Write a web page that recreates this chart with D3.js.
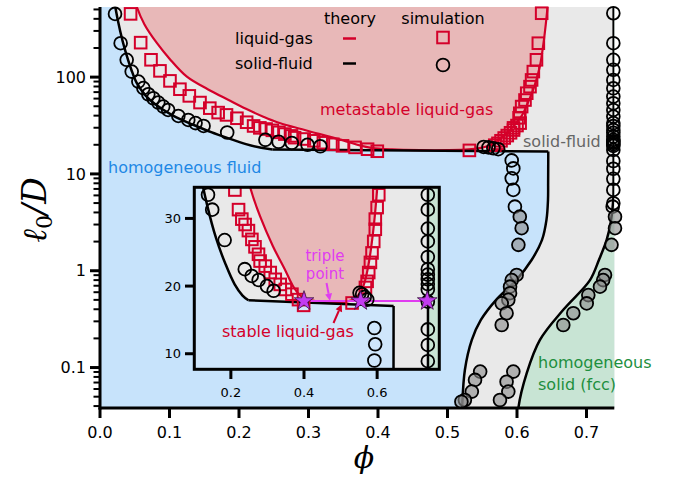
<!DOCTYPE html>
<meta charset="utf-8">
<style>
  body { margin: 0; background: #fff; }
  text { font-family: "DejaVu Sans", sans-serif; }
  .math { font-family: "DejaVu Serif", serif; font-style: italic; }
</style>
<body></body>
<script src="https://d3js.org/d3.v7.min.js"></script>
<script>

// ---- data: (phi, l0/D) pairs ----

// theory: liquid-gas binodal (red)
var binodal = [[0.050, 640], [0.053, 530], [0.064, 350], [0.082, 224], [0.10, 155], [0.125, 101],
  [0.155, 75], [0.185, 58], [0.21, 47], [0.235, 39], [0.255, 34.2], [0.28, 30.3], [0.315, 25.9],
  [0.35, 22.2], [0.37, 20.0], [0.39, 18.6], [0.42, 17.9], [0.46, 17.6], [0.50, 17.6], [0.53, 17.9],
  [0.548, 18.6], [0.558, 19.4], [0.568, 21], [0.579, 24], [0.589, 28], [0.598, 33], [0.607, 40],
  [0.616, 55], [0.625, 80], [0.633, 130], [0.639, 250], [0.644, 530], [0.6455, 700]];

// theory: fluid side of solid-fluid coexistence (black)
var fluidUpper = [[0.0195, 700], [0.022, 530], [0.029, 300], [0.036, 191], [0.045, 120], [0.053, 86.5],
  [0.066, 64], [0.08, 52], [0.105, 40], [0.135, 32], [0.16, 27], [0.185, 23.3], [0.21, 20.3],
  [0.232, 18.6], [0.248, 17.9]];
var fluidFlat = [[0.248, 17.9], [0.645, 17.05]];
var fluidDrop = [[0.645, 17.05], [0.6448, 8], [0.6446, 5.39], [0.6424, 3.35], [0.636, 2.08], [0.621, 1.29],
  [0.599, 0.80], [0.570, 0.50], [0.548, 0.31], [0.535, 0.193], [0.525, 0.0944], [0.521, 0.0383], [0.5205, 0.03]];

// theory: solid side (black)
var solidLine = [[0.739, 1000], [0.739, 8], [0.7385, 5.39], [0.735, 3.2], [0.729, 2.08], [0.718, 1.3],
  [0.705, 0.80], [0.6666, 0.395], [0.633, 0.193], [0.614, 0.0875], [0.602, 0.0383], [0.6015, 0.03]];

// simulation: liquid-gas (squares)
var simSquares = [[0.044, 450], [0.0585, 227], [0.0734, 151], [0.0863, 116], [0.1007, 91.4], [0.115, 75],
  [0.1285, 64], [0.1439, 54.6], [0.158, 47.8], [0.170, 43], [0.182, 40.7], [0.197, 37.6], [0.211, 34.2],
  [0.221, 31.3], [0.230, 29.9], [0.239, 29.1], [0.248, 28.2], [0.2575, 26.9], [0.266, 25.8], [0.2756, 24.7],
  [0.280, 23.7], [0.294, 22.95], [0.3077, 22.0], [0.3214, 21.0], [0.335, 20.25], [0.349, 19.5],
  [0.367, 18.8], [0.385, 18.0], [0.399, 17.15], [0.5315, 17.5],
  [0.568, 19.8], [0.5726, 20.7], [0.577, 22.0], [0.5816, 23.5], [0.586, 24.9], [0.5907, 26.6],
  [0.595, 28.4], [0.595, 29.9], [0.600, 31.6], [0.6045, 33.5], [0.603, 38], [0.604, 42.3],
  [0.6067, 49.6], [0.6115, 58], [0.614, 68.2], [0.6187, 79.7], [0.621, 93.5], [0.6235, 114],
  [0.628, 151], [0.6307, 224], [0.6355, 457]];

// simulation: solid-fluid (open circles)
var simCircles = [[0.0216, 450], [0.0297, 224], [0.0384, 151], [0.0456, 114], [0.0552, 90], [0.0624, 77],
  [0.0695, 66.5], [0.0767, 60.5], [0.0839, 54.6], [0.091, 49.6], [0.098, 45.8], [0.1127, 39.7],
  [0.127, 36.1], [0.1375, 33.5], [0.149, 31.3], [0.183, 26.8], [0.238, 22.5], [0.257, 21.5],
  [0.276, 20.9], [0.2986, 20.0], [0.317, 19.3],
  [0.552, 19.0], [0.559, 18.8], [0.566, 18.4], [0.573, 18.0],
  [0.5924, 13.8], [0.5947, 11.4], [0.5924, 9.0], [0.5947, 6.84], [0.597, 4.59], [0.7377, 4.59],
  [0.7386, 457], [0.7386, 224], [0.7386, 151], [0.7386, 119], [0.7386, 93.5], [0.7386, 76.7],
  [0.7386, 62.9], [0.7386, 53.7], [0.7386, 45.8], [0.7386, 39.1], [0.7386, 33.5], [0.7386, 31.3],
  [0.7386, 28.5], [0.7386, 26.6], [0.7386, 24.3], [0.7386, 22.5], [0.7386, 21.7], [0.7386, 21.0],
  [0.7386, 20.3], [0.7386, 19.5], [0.7386, 17.7], [0.7386, 13.6], [0.7386, 11.3], [0.7386, 8.9],
  [0.7386, 6.84], [0.7386, 4.98]];

// simulation: solid-fluid at low l0/D (grey filled circles)
var simGrey = [[0.604, 3.62], [0.6067, 2.75], [0.602, 1.85], [0.5995, 0.905], [0.5924, 0.80], [0.590, 0.685],
  [0.590, 0.586], [0.5875, 0.50], [0.578, 0.461], [0.585, 0.364], [0.578, 0.275],
  [0.547, 0.0908], [0.5396, 0.0745], [0.535, 0.0564], [0.525, 0.0462], [0.520, 0.0444],
  [0.5947, 0.0908], [0.585, 0.0714], [0.5875, 0.0564], [0.5755, 0.0462],
  [0.741, 3.62], [0.741, 2.75], [0.736, 1.85], [0.7266, 0.905], [0.724, 0.80], [0.7194, 0.685],
  [0.7026, 0.56], [0.7003, 0.46], [0.681, 0.364], [0.6666, 0.275]];

// triple points
var triplePoints = [[0.40, 17.8], [0.555, 17.8], [0.737, 17.8]];

// ticks
var phiTicks = [0, 0.1, 0.2, 0.3, 0.4, 0.5, 0.6, 0.7];
var ellMajor = [0.1, 1, 10, 100];
var ellMinor = [0.04, 0.05, 0.06, 0.07, 0.08, 0.09, 0.2, 0.3, 0.4, 0.5, 0.6, 0.7, 0.8, 0.9,
  2, 3, 4, 5, 6, 7, 8, 9, 20, 30, 40, 50, 60, 70, 80, 90, 200, 300, 400, 500];
var insetPhiTicks = [0.2, 0.4, 0.6];
var insetEllTicks = [10, 20, 30];

// ---- colours ----
var BLUE = "#c7e3fb", GREY = "#e9e9e9", PINK = "#e8b8b8", GREEN = "#c8e4d4";
var RED = "#d4002a", MAGENTA = "#e03cf0";

var svg = d3.select("body").append("svg").attr("width", 678).attr("height", 478);

// main scales
var x = d3.scaleLinear().domain([0, 0.74]).range([100, 614.3]);
var y = d3.scaleLog().domain([0.0382, 530]).range([408, 7]);
// inset scales
var xi = d3.scaleLinear().domain([0.1, 0.77]).range([194.3, 439.3]);
var yi = d3.scaleLinear().domain([7.7, 34.6]).range([369.3, 187.3]);

function pathOf(pts, xs, ys, curve) {
  return d3.line().x(function(d) { return xs(d[0]); }).y(function(d) { return ys(d[1]); })
    .curve(curve || d3.curveLinear)(pts);
}
function joinPaths(parts) {
  return parts.map(function(p, i) { return i ? p.replace(/^M/, "L") : p; }).join("");
}

function drawPanel(g, xs, ys, id, bg, clipMarkers) {
  var x0 = xs.range()[0], x1 = xs.range()[1], y0 = ys.range()[1], y1 = ys.range()[0];
  g.append("clipPath").attr("id", id).append("rect")
    .attr("x", x0).attr("y", y0).attr("width", x1 - x0).attr("height", y1 - y0);
  var c = g.append("g").attr("clip-path", "url(#" + id + ")");
  var cr = d3.curveCatmullRom;

  c.append("rect").attr("x", x0).attr("y", y0).attr("width", x1 - x0).attr("height", y1 - y0).attr("fill", bg);

  // coexistence region (grey)
  var far = [[0.9, 0.02], [0.9, 1000], [0.01, 1000]];
  c.append("path").attr("fill", GREY)
    .attr("d", joinPaths([pathOf(fluidUpper, xs, ys, cr), pathOf(fluidFlat, xs, ys),
      pathOf(fluidDrop, xs, ys, cr), pathOf(far, xs, ys)]) + "Z");
  // homogeneous solid (green)
  c.append("path").attr("fill", GREEN)
    .attr("d", joinPaths([pathOf(solidLine, xs, ys, cr), pathOf([[0.9, 0.02], [0.9, 1000]], xs, ys)]) + "Z");
  // metastable liquid-gas (pink)
  c.append("path").attr("fill", PINK).attr("d", pathOf(binodal, xs, ys, cr) + "Z");

  // theory lines
  c.append("path").attr("fill", "none").attr("stroke", RED).attr("stroke-width", 2.2)
    .attr("d", pathOf(binodal, xs, ys, cr));
  [pathOf(fluidUpper, xs, ys, cr), pathOf(fluidFlat, xs, ys), pathOf(fluidDrop, xs, ys, cr),
   pathOf(solidLine, xs, ys, cr)].forEach(function(d) {
    c.append("path").attr("fill", "none").attr("stroke", "#000").attr("stroke-width", 2.5)
      .attr("stroke-linejoin", "round").attr("d", d);
  });

  var m = clipMarkers ? c : g.append("g");
  return m;
}

function drawMarkers(m, xs, ys) {
  m.selectAll("rect.sq").data(simSquares).join("rect").attr("class", "sq")
    .attr("x", function(d) { return xs(d[0]) - 5.8; }).attr("y", function(d) { return ys(d[1]) - 5.8; })
    .attr("width", 11.6).attr("height", 11.6)
    .attr("fill", "none").attr("stroke", RED).attr("stroke-width", 2);
  m.selectAll("circle.op").data(simCircles).join("circle").attr("class", "op")
    .attr("cx", function(d) { return xs(d[0]); }).attr("cy", function(d) { return ys(d[1]); })
    .attr("r", 6.4).attr("fill", "none").attr("stroke", "#000").attr("stroke-width", 1.8);
  m.selectAll("circle.gr").data(simGrey).join("circle").attr("class", "gr")
    .attr("cx", function(d) { return xs(d[0]); }).attr("cy", function(d) { return ys(d[1]); })
    .attr("r", 6.4).attr("fill", "#8a8a8a").attr("fill-opacity", 0.6)
    .attr("stroke", "#000").attr("stroke-width", 1.8);
}

// ---------------- main panel ----------------
var main = svg.append("g");
var mm = drawPanel(main, x, y, "clipMain", BLUE, false);
drawMarkers(mm, x, y);

// axes spines
main.append("line").attr("x1", 100).attr("x2", 100).attr("y1", 7).attr("y2", 409.5)
  .attr("stroke", "#000").attr("stroke-width", 3);
main.append("line").attr("x1", 98.5).attr("x2", 614.3).attr("y1", 408).attr("y2", 408)
  .attr("stroke", "#000").attr("stroke-width", 3);

// x ticks
phiTicks.forEach(function(t) {
  main.append("line").attr("x1", x(t)).attr("x2", x(t)).attr("y1", 408).attr("y2", 418)
    .attr("stroke", "#000").attr("stroke-width", 3);
  main.append("text").attr("x", x(t)).attr("y", 438).attr("text-anchor", "middle")
    .attr("font-size", 16).text(d3.format(".1f")(t));
});
// y ticks
ellMinor.forEach(function(t) {
  main.append("line").attr("x1", 93.5).attr("x2", 100).attr("y1", y(t)).attr("y2", y(t))
    .attr("stroke", "#000").attr("stroke-width", 2);
});
ellMajor.forEach(function(t) {
  main.append("line").attr("x1", 90).attr("x2", 100).attr("y1", y(t)).attr("y2", y(t))
    .attr("stroke", "#000").attr("stroke-width", 3);
  main.append("text").attr("x", 86).attr("y", y(t)).attr("dy", "0.36em").attr("text-anchor", "end")
    .attr("font-size", 16).text(t);
});

// axis labels
main.append("text").attr("class", "math").attr("x", 364).attr("y", 468).attr("text-anchor", "middle")
  .attr("font-size", 30).text("\u03d5");
var yl = main.append("text").attr("transform", "translate(46,210) rotate(-90)")
  .attr("text-anchor", "middle").attr("font-size", 33);
yl.append("tspan").attr("class", "math").text("\u2113");
yl.append("tspan").attr("font-family", "DejaVu Serif").attr("font-size", 22).attr("dy", 6).text("0");
yl.append("tspan").attr("class", "math").attr("dy", -6).text("/D");

// region labels
main.append("text").attr("x", 108).attr("y", 173).attr("font-size", 16).attr("fill", "#1e88e5")
  .text("homogeneous fluid");
main.append("text").attr("x", 320).attr("y", 115).attr("font-size", 16).attr("fill", RED)
  .text("metastable liquid-gas");
main.append("text").attr("x", 523).attr("y", 147).attr("font-size", 16).attr("fill", "#666")
  .text("solid-fluid");
main.append("text").attr("x", 538).attr("y", 368).attr("font-size", 16).attr("fill", "#1e8f3e")
  .text("homogeneous");
main.append("text").attr("x", 538).attr("y", 390).attr("font-size", 16).attr("fill", "#1e8f3e")
  .text("solid (fcc)");

// legend
var lg = main.append("g");
lg.append("text").attr("x", 350).attr("y", 24).attr("text-anchor", "middle").attr("font-size", 16).text("theory");
lg.append("text").attr("x", 443).attr("y", 24).attr("text-anchor", "middle").attr("font-size", 16).text("simulation");
lg.append("text").attr("x", 235).attr("y", 44).attr("font-size", 16).text("liquid-gas");
lg.append("text").attr("x", 235).attr("y", 69).attr("font-size", 16).text("solid-fluid");
lg.append("line").attr("x1", 343).attr("x2", 356).attr("y1", 38.5).attr("y2", 38.5)
  .attr("stroke", RED).attr("stroke-width", 2.5);
lg.append("line").attr("x1", 343).attr("x2", 356).attr("y1", 63.5).attr("y2", 63.5)
  .attr("stroke", "#000").attr("stroke-width", 2.5);
lg.append("rect").attr("x", 437.2).attr("y", 31.7).attr("width", 11.6).attr("height", 11.6)
  .attr("fill", "none").attr("stroke", RED).attr("stroke-width", 2);
lg.append("circle").attr("cx", 443).attr("cy", 65).attr("r", 6.4)
  .attr("fill", "none").attr("stroke", "#000").attr("stroke-width", 1.8);

// ---------------- inset ----------------
var ins = svg.append("g");
var im = drawPanel(ins, xi, yi, "clipInset", "#cfe6fb", true);

// triple line + stars
im.append("line").attr("x1", xi(triplePoints[0][0])).attr("x2", xi(triplePoints[2][0]))
  .attr("y1", yi(triplePoints[0][1])).attr("y2", yi(triplePoints[2][1]))
  .attr("stroke", MAGENTA).attr("stroke-width", 2);
drawMarkers(im, xi, yi);
ins.selectAll("path.star").data(triplePoints).join("path").attr("class", "star")
  .attr("transform", function(d) { return "translate(" + xi(d[0]) + "," + yi(d[1]) + ")"; })
  .attr("d", d3.symbol(d3.symbolStar).size(120)())
  .attr("fill", "#c33cf0").attr("stroke", "#3a1040").attr("stroke-width", 0.8);

// inset frame and ticks
ins.append("rect").attr("x", 194.3).attr("y", 187.3).attr("width", 245).attr("height", 182)
  .attr("fill", "none").attr("stroke", "#000").attr("stroke-width", 3);
insetPhiTicks.forEach(function(t) {
  ins.append("line").attr("x1", xi(t)).attr("x2", xi(t)).attr("y1", 369.3).attr("y2", 379)
    .attr("stroke", "#000").attr("stroke-width", 3);
  ins.append("text").attr("x", xi(t)).attr("y", 397).attr("text-anchor", "middle")
    .attr("font-size", 13).text(d3.format(".1f")(t));
});
insetEllTicks.forEach(function(t) {
  ins.append("line").attr("x1", 185).attr("x2", 194.3).attr("y1", yi(t)).attr("y2", yi(t))
    .attr("stroke", "#000").attr("stroke-width", 3);
  ins.append("text").attr("x", 181).attr("y", yi(t)).attr("dy", "0.36em").attr("text-anchor", "end")
    .attr("font-size", 13).text(t);
});

// inset annotations
function arrow(g, from, to, color) {
  var a = Math.atan2(to[1] - from[1], to[0] - from[0]), L = 7, w = 3.5;
  var bx = to[0] - L * Math.cos(a), by = to[1] - L * Math.sin(a);
  g.append("line").attr("x1", from[0]).attr("y1", from[1]).attr("x2", bx).attr("y2", by)
    .attr("stroke", color).attr("stroke-width", 2);
  g.append("path").attr("fill", color).attr("d", "M" + to[0] + "," + to[1] +
    "L" + (bx + w * Math.sin(a)) + "," + (by - w * Math.cos(a)) +
    "L" + (bx - w * Math.sin(a)) + "," + (by + w * Math.cos(a)) + "Z");
}
ins.append("text").attr("x", 325).attr("y", 261).attr("text-anchor", "middle").attr("font-size", 15)
  .attr("fill", MAGENTA).text("triple");
ins.append("text").attr("x", 325).attr("y", 279).attr("text-anchor", "middle").attr("font-size", 15)
  .attr("fill", MAGENTA).text("point");
arrow(ins, [326.5, 283], [xi(0.471), yi(17.85)], MAGENTA);
ins.append("text").attr("x", 222).attr("y", 337).attr("font-size", 16).attr("fill", RED)
  .text("stable liquid-gas");
arrow(ins, [333.5, 323], [xi(0.503), yi(17.3)], RED);

</script>
